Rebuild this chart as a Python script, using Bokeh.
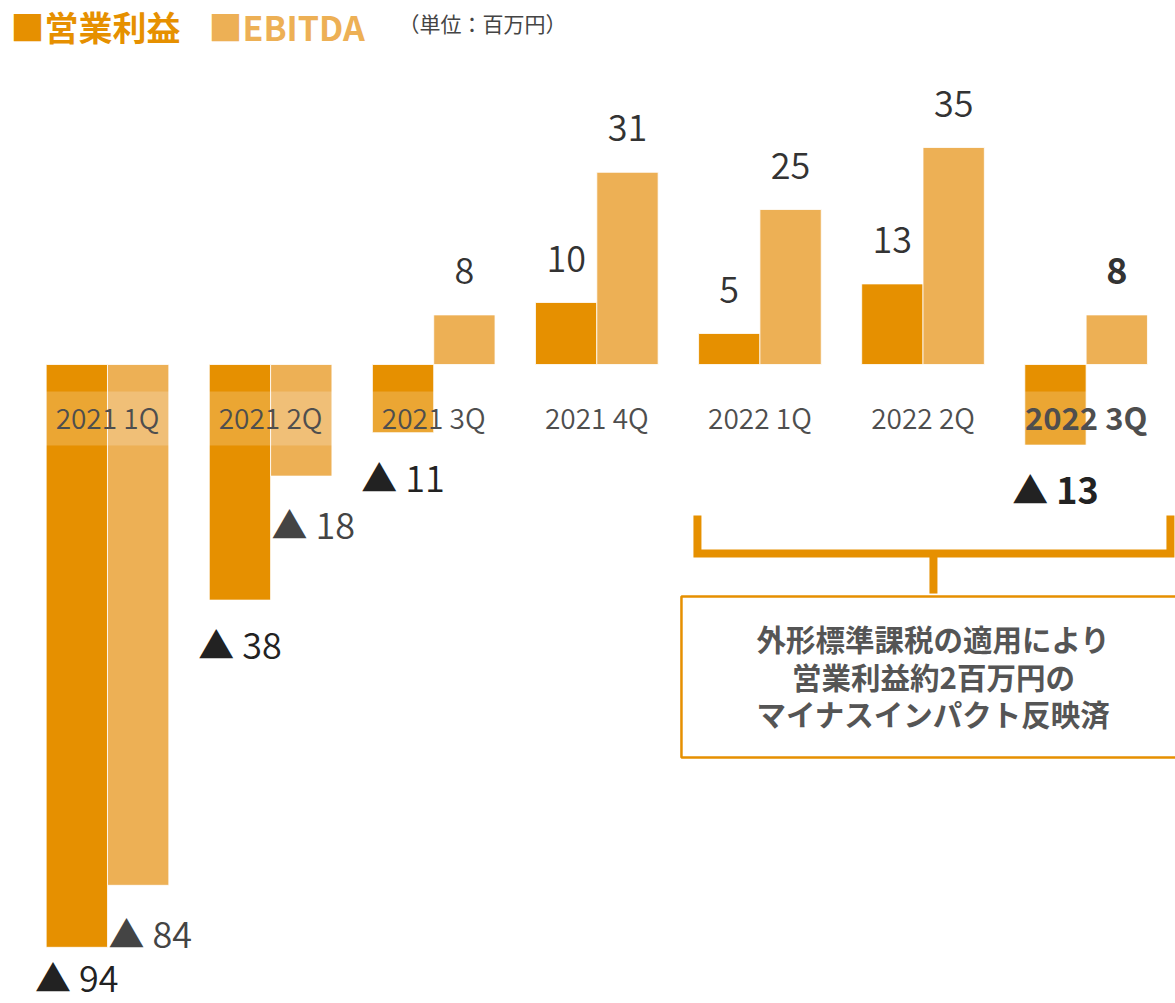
from bokeh.plotting import figure
from bokeh.models import Range1d, BoxAnnotation, ColumnDataSource, Label
from bokeh.core.properties import value
from bokeh.embed import file_html
from bokeh.resources import INLINE

# ---- data ----
quarters = ["2021 1Q", "2021 2Q", "2021 3Q", "2021 4Q", "2022 1Q", "2022 2Q", "2022 3Q"]
op_profit = [-94, -38, -11, 10, 5, 13, -13]
ebitda = [-84, -18, 8, 31, 25, 35, 8]
legend_op = "■営業利益"
legend_eb = "■EBITDA"
unit_label = "（単位：百万円）"
note_lines = ["外形標準課税の適用により", "営業利益約2百万円の", "マイナスインパクト反映済"]

C_OP = "#E69000"
C_EB = "#EDB055"
FONT = value("Noto Sans CJK JP")
FONT_L = value("Noto Sans CJK JP DemiLight, Noto Sans CJK JP Light, Noto Sans CJK JP")

W, H = 1175, 1003
Y0, Y1 = -103.06, 58.71
PX_PER_UNIT = H / (Y1 - Y0)
p = figure(width=W, height=H, output_backend="svg", toolbar_location=None,
           x_range=Range1d(-0.656, 6.548), y_range=Range1d(Y0, Y1),
           min_border=0, outline_line_color=None)
p.axis.visible = False
p.grid.visible = False
p.background_fill_color = "white"
p.border_fill_color = "white"

n = len(quarters)
idx = list(range(n))
BW = 0.376
last = n - 1

src_op = ColumnDataSource(dict(x=[i - BW / 2 for i in idx], top=[max(v, 0) for v in op_profit],
                               bottom=[min(v, 0) for v in op_profit]))
src_eb = ColumnDataSource(dict(x=[i + BW / 2 for i in idx], top=[max(v, 0) for v in ebitda],
                               bottom=[min(v, 0) for v in ebitda]))
p.vbar(x="x", top="top", bottom="bottom", width=BW, source=src_op,
       fill_color=C_OP, line_color="white", line_width=0.8)
p.vbar(x="x", top="top", bottom="bottom", width=BW, source=src_eb,
       fill_color=C_EB, line_color="white", line_width=0.8)

# translucent white band behind the category labels
p.add_layout(BoxAnnotation(top=-4.35, bottom=-13.06, fill_color="white", fill_alpha=0.2,
                           line_color=None, level="overlay"))

# category labels
cat_norm = dict(x=idx[:last], y=[-8.39] * last, t=quarters[:last])
p.text(x="x", y="y", text="t", source=ColumnDataSource(cat_norm), text_font=FONT_L,
       text_font_size="28px", text_color="#222222", text_align="center",
       text_baseline="middle", level="overlay")
p.text(x=[idx[last]], y=[-8.39], text=[quarters[last]], text_font=FONT,
       text_font_size="31px", text_font_style="bold", text_color="#222222",
       text_align="center", text_baseline="middle", level="overlay")

def fmt(v):
    return str(v) if v >= 0 else "▲ " + str(-v)

def add_labels(vals, xoff_units, neg_color, neg_xoff, neg_yoff):
    for i, v in enumerate(vals):
        bold = (i == last)
        style = "bold" if bold else "normal"
        font = FONT if bold else FONT_L
        if v >= 0:
            p.text(x=[i + xoff_units], y=[v], text=[fmt(v)], text_font=font,
                   text_font_size="36px", text_font_style=style, text_color="#333333",
                   text_align="center", text_baseline="middle", y_offset=-44)
        else:
            # keep the label inside the canvas
            bar_px = (Y1 - v) * PX_PER_UNIT
            yoff = min(neg_yoff, H - 28 - bar_px)
            p.text(x=[i + xoff_units], y=[v], text=[fmt(v)], text_font=font,
                   text_font_size="36px", text_font_style=style,
                   text_color="#222222" if bold else neg_color,
                   text_align="center", text_baseline="middle",
                   x_offset=neg_xoff, y_offset=yoff)

add_labels(op_profit, -BW / 2, "#222222", 0, 43)
add_labels(ebitda, BW / 2, "#444444", 12, 47)

# bracket
p.line(x=[3.617, 3.617, 6.517, 6.517], y=[-24.35, -30.48, -30.48, -24.35],
       line_color=C_OP, line_width=8, line_join="miter")
p.line(x=[5.064, 5.064], y=[-30.48, -36.94], line_color=C_OP, line_width=8)

# note box
p.quad(left=[3.519], right=[6.8], top=[-37.42], bottom=[-63.39],
       fill_color="white", line_color=C_OP, line_width=2.5)
p.text(x=[5.064] * 3, y=[-44.03, -50.16, -56.13], text=note_lines, text_font=FONT,
       text_font_size="29.5px", text_font_style="bold", text_color="#555555",
       text_align="center", text_baseline="middle")

# legend
p.add_layout(Label(x=10, y=H - 26, x_units="screen", y_units="screen", text=legend_op,
                   text_font="Noto Sans CJK JP", text_font_size="34px", text_font_style="bold",
                   text_color=C_OP, text_baseline="middle"))
p.add_layout(Label(x=208, y=H - 26, x_units="screen", y_units="screen", text=legend_eb,
                   text_font="Noto Sans CJK JP", text_font_size="34px", text_font_style="bold",
                   text_color=C_EB, text_baseline="middle"))
p.add_layout(Label(x=398, y=H - 22, x_units="screen", y_units="screen", text=unit_label,
                   text_font="Noto Sans CJK JP", text_font_size="21px",
                   text_color="#444444", text_baseline="middle"))

open("out.html", "w").write(file_html(p, INLINE))
